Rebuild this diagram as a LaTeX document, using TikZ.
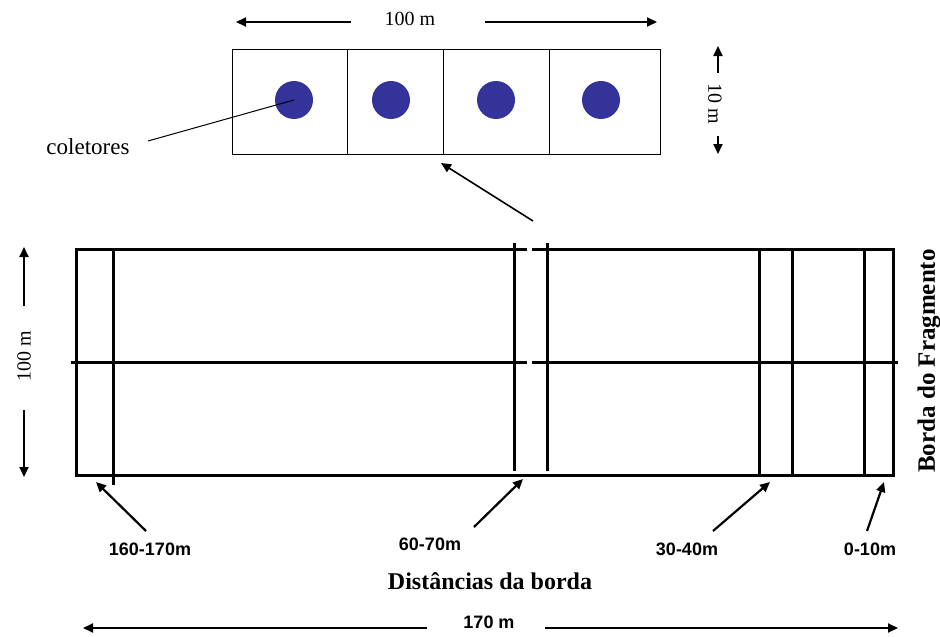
\documentclass[tikz,border=0pt]{standalone}
\usepackage{fontspec}
\setmainfont{Liberation Serif}
\newfontfamily\arialfont{Liberation Sans}
\usetikzlibrary{arrows.meta}
\definecolor{coletorblue}{RGB}{51,51,153}
\tikzset{
  thinbox/.style={draw=black,line width=1pt},
  thickline/.style={draw=black,line width=3pt},
  dimarrow/.style={line width=2pt,-{Triangle[length=10pt,width=9pt]}},
  ptrarrow/.style={line width=2.2pt,-{Triangle[length=10pt,width=9pt]}},
  coletor/.style={circle,fill=coletorblue,minimum size=38pt,inner sep=0pt},
  serif/.style={font=\fontsize{20}{22}\selectfont},
  boldserif/.style={font=\fontsize{24}{26}\selectfont\bfseries},
  boldsans/.style={font=\arialfont\fontsize{18}{20}\selectfont\bfseries},
}
\begin{document}
\begin{tikzpicture}[x=1pt,y=-1pt]
\useasboundingbox (0,0) rectangle (940,637);

% ---------- top detail plot ----------
\draw[thinbox] (232,49) rectangle (660,154);
\foreach \x in {347,443,549} \draw[line width=1pt] (\x,49) -- (\x,154);
\node[coletor] (c1) at (294,100) {};
\node[coletor] (c2) at (391,100) {};
\node[coletor] (c3) at (496,100) {};
\node[coletor] (c4) at (601,100) {};
\node[serif,font=\fontsize{23}{25}\selectfont] (col) at (88,147) {coletores};
\coordinate (colend) at (148,141);
\draw[line width=1pt] (colend) -- (c1.center);

\node[serif] (topdim) at (410,19) {100 m};
\coordinate (tdl) at (351,22); \coordinate (tdle) at (236,22);
\coordinate (tdr) at (485,22); \coordinate (tdre) at (657,22);
\draw[dimarrow] (tdl) -- (tdle);
\draw[dimarrow] (tdr) -- (tdre);

\node[serif,rotate=-90] (tendim) at (715,104) {10 m};
\coordinate (tu1) at (718,73); \coordinate (tu2) at (718,46);
\coordinate (td1) at (718,136); \coordinate (td2) at (718,154);
\draw[dimarrow] (tu1) -- (tu2);
\draw[dimarrow] (td1) -- (td2);

% ---------- large plot ----------
\draw[thickline,line join=miter] (527,249) -- (76,249) -- (76,475) -- (893,475) -- (893,249) -- (532,249);
\draw[thickline] (71,362) -- (527,362);
\draw[thickline] (532,362) -- (898,362);
\draw[thickline] (113,248) -- (113,485);
\draw[thickline] (514,243) -- (514,471);
\draw[thickline] (547,243) -- (547,471);
\foreach \x in {759,792,864} \draw[thickline] (\x,249) -- (\x,475);

% pointer from gap to detail plot
\coordinate (gapA) at (533,221);
\coordinate (gapB) at (441,163);
\draw[line width=1.6pt,-{Triangle[length=10pt,width=9pt]}] (gapA) -- (gapB);

% left dimension
\node[serif,rotate=90] (leftdim) at (24,356) {100 m};
\coordinate (lu1) at (24,306); \coordinate (lu2) at (24,247);
\coordinate (ld1) at (24,410); \coordinate (ld2) at (24,477);
\draw[dimarrow] (lu1) -- (lu2);
\draw[dimarrow] (ld1) -- (ld2);

% right side label
\node[boldserif,rotate=90,font=\fontsize{25}{27}\selectfont\bfseries] (borda) at (929,361) {Borda do Fragmento};

% ---------- distance labels ----------
\node[boldsans] (l160) at (150,549) {160-170m};
\node[boldsans] (l60) at (430,544) {60-70m};
\node[boldsans] (l30) at (687,549) {30-40m};
\node[boldsans] (l0) at (870,549) {0-10m};
\coordinate (a160) at (146,531); \coordinate (b160) at (96,482);
\coordinate (a60) at (474,527); \coordinate (b60) at (523,479);
\coordinate (a30) at (713,531); \coordinate (b30) at (770,482);
\coordinate (a0) at (867,531); \coordinate (b0) at (884,482);
\draw[ptrarrow] (a160) -- (b160);
\draw[ptrarrow] (a60) -- (b60);
\draw[ptrarrow] (a30) -- (b30);
\draw[ptrarrow] (a0) -- (b0);

\node[boldserif] (dist) at (490,581) {Distâncias da borda};

\node[boldsans] (bottomdim) at (489,622) {170 m};
\coordinate (bl1) at (427,628); \coordinate (bl2) at (83,628);
\coordinate (br1) at (545,628); \coordinate (br2) at (898,628);
\draw[dimarrow] (bl1) -- (bl2);
\draw[dimarrow] (br1) -- (br2);
\end{tikzpicture}
\end{document}
